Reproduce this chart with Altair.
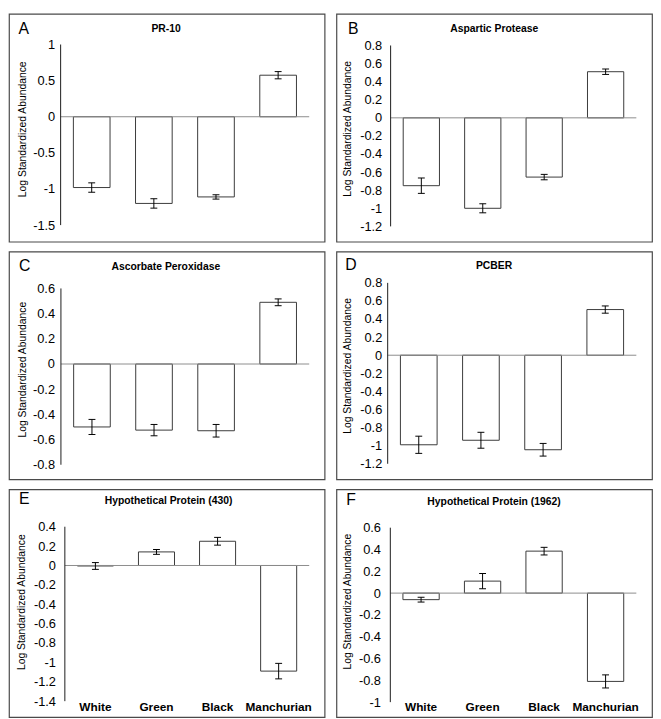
import altair as alt
import pandas as pd

categories = ["White", "Green", "Black", "Manchurian"]
panel_letters = ["A", "B", "C", "D", "E", "F"]
panel_titles = ["PR-10", "Aspartic Protease", "Ascorbate Peroxidase", "PCBER",
                "Hypothetical Protein (430)", "Hypothetical Protein (1962)"]
y_title = "Log Standardized Abundance"

values_A = [-0.98, -1.20, -1.11, 0.575]
errors_A = [0.065, 0.065, 0.03, 0.05]
ticks_A = [1, 0.5, 0, -0.5, -1, -1.5]

values_B = [-0.75, -1.0, -0.655, 0.51]
errors_B = [0.085, 0.05, 0.03, 0.03]
ticks_B = [0.8, 0.6, 0.4, 0.2, 0, -0.2, -0.4, -0.6, -0.8, -1, -1.2]

values_C = [-0.5, -0.525, -0.53, 0.49]
errors_C = [0.06, 0.045, 0.05, 0.027]
ticks_C = [0.6, 0.4, 0.2, 0, -0.2, -0.4, -0.6, -0.8]

values_D = [-0.99, -0.94, -1.045, 0.505]
errors_D = [0.095, 0.088, 0.07, 0.04]
ticks_D = [0.8, 0.6, 0.4, 0.2, 0, -0.2, -0.4, -0.6, -0.8, -1, -1.2]

values_E = [-0.005, 0.14, 0.25, -1.09]
errors_E = [0.035, 0.025, 0.04, 0.08]
ticks_E = [0.4, 0.2, 0, -0.2, -0.4, -0.6, -0.8, -1, -1.2, -1.4]

values_F = [-0.06, 0.11, 0.385, -0.81]
errors_F = [0.022, 0.07, 0.035, 0.06]
ticks_F = [0.6, 0.4, 0.2, 0, -0.2, -0.4, -0.6, -0.8, -1]

# ---- layout (pixels relative to each panel box, measured on a 322x233 box) ----
W, H = 320, 231
REF_W, REF_H = 322.0, 233.0
sx, sy = W / REF_W, H / REF_H
PI = 0.41
XLABEL_Y = 221.7

layout = {
    "A": dict(ax=52.7, re=306.3, yt=31.3, yb=216.0, lp=6, tx=13.7, ty=117.5, hx=160.3, hy=15.7, lx=9.7, ly=15.3),
    "B": dict(ax=55.3, re=306.0, yt=32.3, yb=217.3, lp=9, tx=11.0, ty=117.0, hx=161.0, hy=15.3, lx=11.7, ly=15.2),
    "C": dict(ax=53.0, re=306.3, yt=37.7, yb=218.0, lp=6.5, tx=13.7, ty=120.3, hx=160.0, hy=15.3, lx=10.3, ly=14.3),
    "D": dict(ax=52.3, re=306.0, yt=32.0, yb=217.0, lp=6, tx=11.7, ty=116.5, hx=160.8, hy=14.3, lx=9.0, ly=13.7),
    "E": dict(ax=57.0, re=306.3, yt=38.3, yb=216.7, lp=9.5, tx=13.0, ty=115.0, hx=162.8, hy=12.3, lx=10.3, ly=10.0),
    "F": dict(ax=55.0, re=306.0, yt=39.3, yb=217.7, lp=10, tx=11.0, ty=114.5, hx=160.8, hy=13.3, lx=10.0, ly=11.0),
}

LABEL_EXPR = "datum.value < 0 ? '-' + format(-datum.value, '~g') : format(datum.value, '~g')"


def panel(letter, title, vals, errs, ticks, show_x):
    g = layout[letter]
    ax, re = g["ax"] * sx, g["re"] * sx
    yt, yb = g["yt"] * sy, g["yb"] * sy
    top, bot = ticks[0], ticks[-1]
    k = (yb - yt) / (top - bot)
    dmax = top + yt / k
    dmin = bot - (H - yb) / k
    step = (re - ax) / 4.0
    po = (W / step - (4 - PI)) / 2.0
    align = (ax + PI / 2.0 * step) / (W - step * (4 - PI))

    df = pd.DataFrame({
        "cat": categories,
        "val": vals,
        "lo": [v - e for v, e in zip(vals, errs)],
        "hi": [v + e for v, e in zip(vals, errs)],
    })

    xscale = alt.Scale(paddingInner=PI, paddingOuter=po, align=align, round=False)
    yscale = alt.Scale(domain=[dmin, dmax], nice=False, zero=False)

    def xaxis():
        if show_x:
            return alt.Axis(labelAngle=0, labelFontWeight="bold", labelFontSize=12,
                            labelColor="black", labelBaseline="middle",
                            domain=False, ticks=False, tickSize=0, grid=False,
                            labelPadding=0, offset=XLABEL_Y * sy + 0.7 - H, title=None)
        return None

    def yaxis():
        return alt.Axis(values=ticks, offset=-ax, domain=False, ticks=False, tickSize=0,
                        grid=False, labelPadding=g["lp"], labelFontSize=13,
                        labelColor="black", labelExpr=LABEL_EXPR,
                        title=y_title, titleX=g["tx"] * sx - ax, titleY=g["ty"] * sy,
                        titleAngle=270, titleAlign="center", titleBaseline="middle",
                        titleFontSize=10.5, titleFontWeight="normal", titleColor="black")

    def X():
        return alt.X("cat:N", sort=categories, scale=xscale, axis=xaxis(), title=None)

    def Y(field):
        return alt.Y(field, scale=yscale, axis=yaxis(), title=y_title)

    base = alt.Chart(df)
    bars = base.mark_bar(fill="white", stroke="#3a3a3a", strokeWidth=1, opacity=1).encode(
        x=X(), y=Y("val:Q"), y2=alt.datum(0),
    )
    zero = alt.Chart(pd.DataFrame({"z": [0]})).mark_rule(color="#8c8c8c", strokeWidth=1).encode(
        x=alt.value(ax), x2=alt.value(re), y=Y("z:Q"),
    )
    yline = alt.Chart(pd.DataFrame({"t": [top], "b": [bot]})).mark_rule(color="#1a1a1a", strokeWidth=1).encode(
        x=alt.value(ax), y=Y("t:Q"), y2="b:Q",
    )
    err = base.mark_rule(color="black", strokeWidth=1).encode(x=X(), y=Y("lo:Q"), y2="hi:Q")
    cap_lo = base.mark_tick(color="black", size=7, thickness=1, opacity=1).encode(x=X(), y=Y("lo:Q"))
    cap_hi = base.mark_tick(color="black", size=7, thickness=1, opacity=1).encode(x=X(), y=Y("hi:Q"))
    ttl = alt.Chart(pd.DataFrame({"t": [title]})).mark_text(
        align="center", baseline="middle", fontWeight="bold", fontSize=10.5, color="black"
    ).encode(x=alt.value(g["hx"] * sx), y=alt.value(g["hy"] * sy), text="t:N")
    let = alt.Chart(pd.DataFrame({"t": [letter]})).mark_text(
        align="left", baseline="middle", fontSize=16, color="black"
    ).encode(x=alt.value(g["lx"] * sx), y=alt.value(g["ly"] * sy), text="t:N")

    return alt.layer(bars, zero, yline, err, cap_lo, cap_hi, ttl, let).properties(width=W, height=H)


pA = panel("A", panel_titles[0], values_A, errors_A, ticks_A, False)
pB = panel("B", panel_titles[1], values_B, errors_B, ticks_B, False)
pC = panel("C", panel_titles[2], values_C, errors_C, ticks_C, False)
pD = panel("D", panel_titles[3], values_D, errors_D, ticks_D, False)
pE = panel("E", panel_titles[4], values_E, errors_E, ticks_E, True)
pF = panel("F", panel_titles[5], values_F, errors_F, ticks_F, True)

chart = alt.vconcat(
    alt.hconcat(pA, pB, spacing=10),
    alt.hconcat(pC, pD, spacing=10),
    alt.hconcat(pE, pF, spacing=10),
    spacing=8,
).properties(padding=0, background="white").configure(
    font="Liberation Sans"
).configure_view(
    stroke="#4a4a4a", strokeWidth=1.2, strokeOpacity=1
)

chart.save("out.html", embed_options={"renderer": "svg", "actions": False})
